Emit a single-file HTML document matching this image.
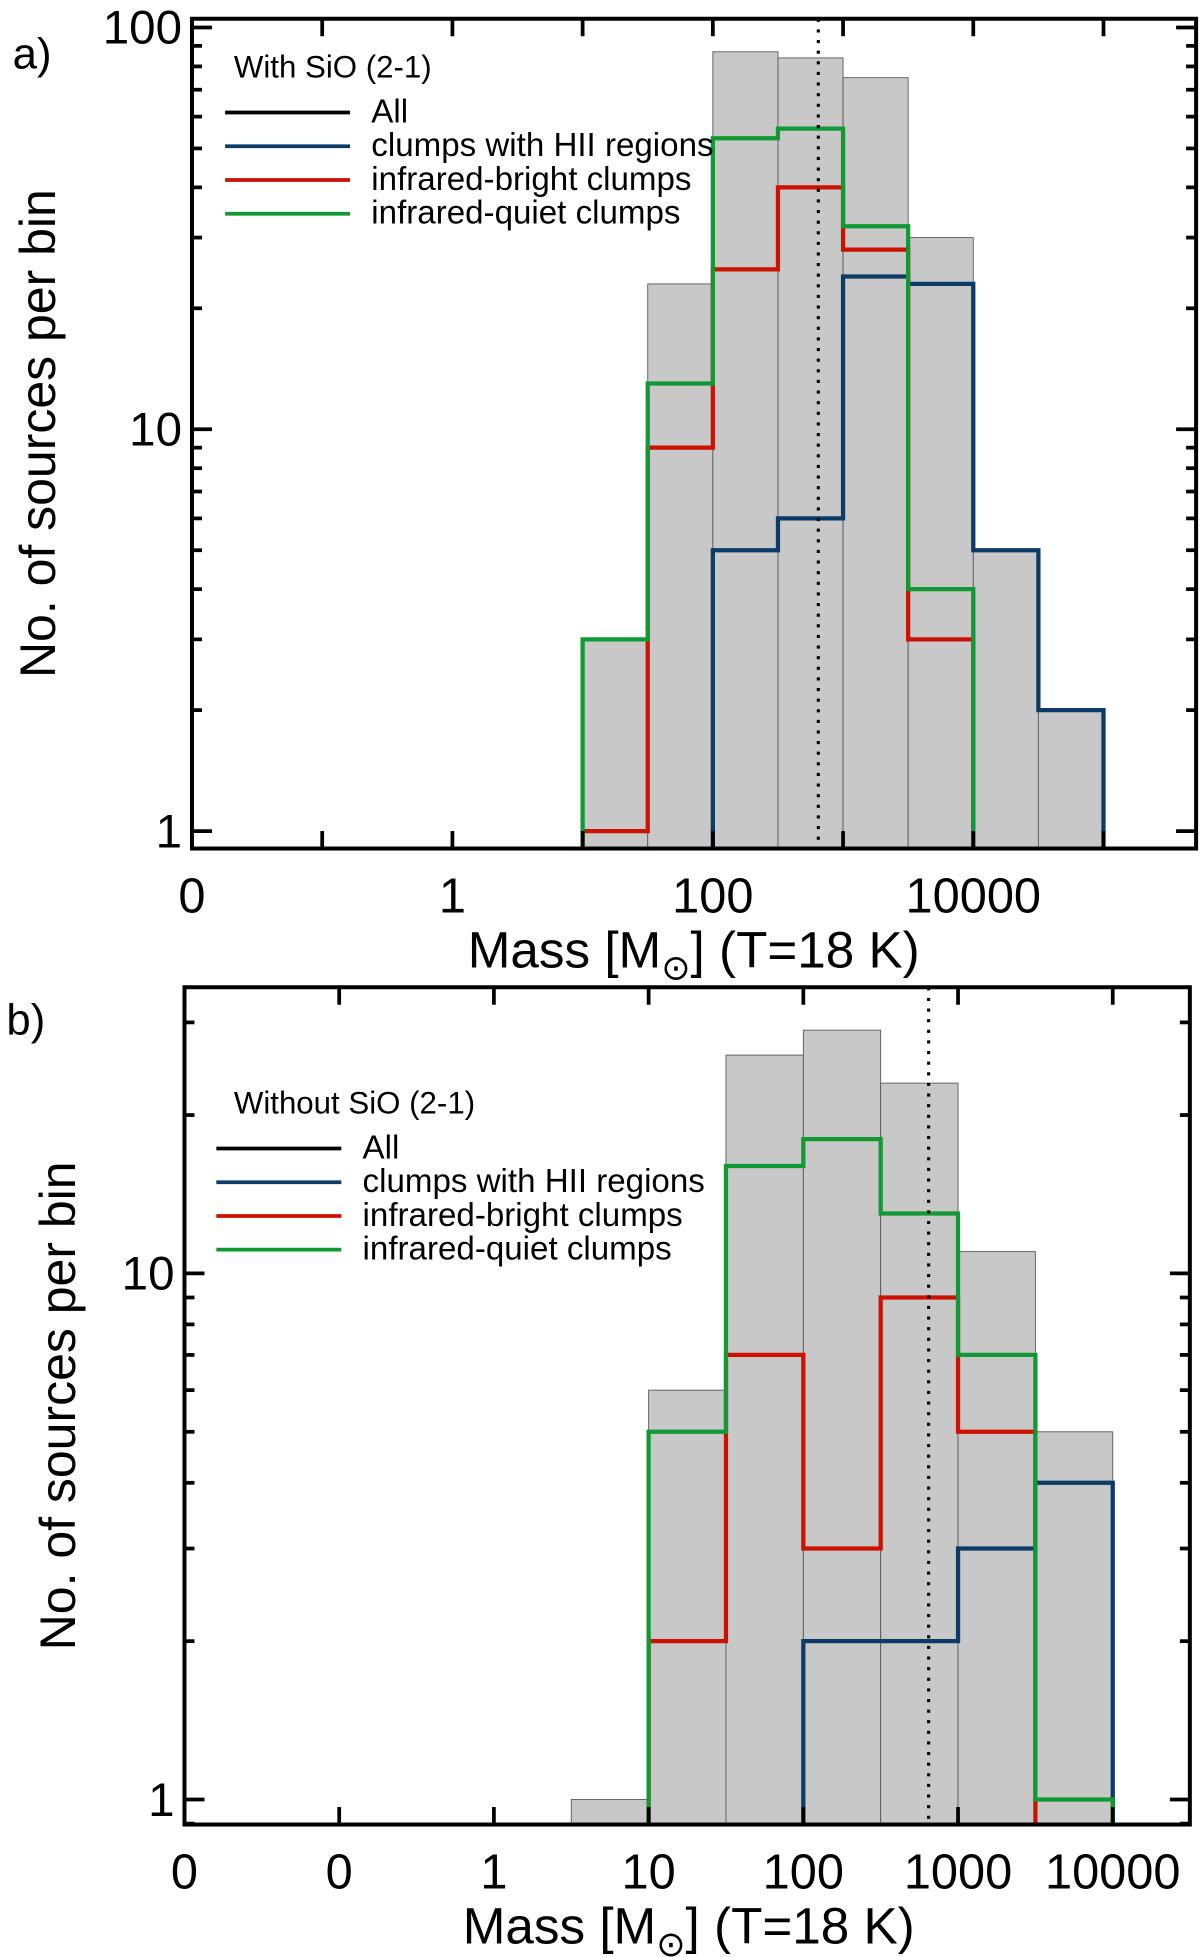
<!DOCTYPE html>
<html><head><meta charset="utf-8"><style>
html,body{margin:0;padding:0;background:#fff;}
svg{display:block;font-family:"Liberation Sans",sans-serif;}
</style></head><body>
<svg id="fig" width="1200" height="1957" viewBox="0 0 960 1566" xmlns="http://www.w3.org/2000/svg"></svg>
<script>
// ---- Panel a data (bins in log10 mass, half-decade) ----
const aBinEdgesLog = [1, 1.5, 2, 2.5, 3, 3.5, 4, 4.5, 5];
const aAll   = [3, 23, 87, 84, 75, 30, 5, 2];
const aHII   = [0, 0, 5, 6, 24, 23, 5, 2];
const aBright= [1, 9, 25, 40, 28, 3, 0, 0];
const aQuiet = [3, 13, 53, 56, 32, 4, 0, 0];
const aMedianLog = 2.81;
const aXTickLabels = ["0", "1", "100", "10000"];
const aXTickLabelLogs = [-2, 0, 2, 4];
const aYTickLabels = ["1", "10", "100"];

// ---- Panel b data ----
const bBinEdgesLog = [0.5, 1, 1.5, 2, 2.5, 3, 3.5, 4];
const bAll   = [1, 6, 26, 29, 23, 11, 5];
const bHII   = [0, 0, 0, 2, 2, 3, 4];
const bBright= [0, 2, 7, 3, 9, 5, 0];
const bQuiet = [0, 5, 16, 18, 13, 7, 1];
const bMedianLog = 2.81;
const bXTickLabels = ["0", "0", "1", "10", "100", "1000", "10000"];
const bXTickLabelLogs = [-2, -1, 0, 1, 2, 3, 4];
const bYTickLabels = ["1", "10"];

const NS = "http://www.w3.org/2000/svg";
const svg = document.getElementById("fig");
const COL = {hii:"#0b3b66", bright:"#cc1100", quiet:"#119933"};

function mk(tag, attrs, parent){
  const e = document.createElementNS(NS, tag);
  for (const k in attrs) e.setAttribute(k, attrs[k]);
  (parent||svg).appendChild(e);
  return e;
}

function panel(cfg){
  const g = mk("g", {});
  
  
  const X = v => cfg.x0 + (v - cfg.xmin) / (cfg.xmax - cfg.xmin) * (cfg.x1 - cfg.x0);
  const Y = v => cfg.y1 - (v - cfg.ymin) / (cfg.ymax - cfg.ymin) * (cfg.y1 - cfg.y0);
  const yv = c => c > 0 ? Y(Math.log10(c)) : cfg.y1;
  const E = cfg.edges;
  cfg.all.forEach((c, i) => {
    if (c <= 0) return;
    const r = mk("rect", {x:X(E[i]), y:yv(c), width:X(E[i+1])-X(E[i]), height:cfg.y1-yv(c), fill:"#c8c8c8", stroke:"#555", "stroke-width":0.7}, g);
    
    
  });
  [["hii", cfg.hii], ["bright", cfg.bright], ["quiet", cfg.quiet]].forEach(([k, arr]) => {
    let d = "", open = false;
    arr.forEach((c, i) => {
      if (c > 0) {
        if (!open) { d += "M" + X(E[i]) + " " + cfg.y1; open = true; }
        d += " L" + X(E[i]) + " " + yv(c) + " L" + X(E[i+1]) + " " + yv(c);
      } else if (open) { d += " L" + X(E[i]) + " " + cfg.y1; open = false; }
    });
    if (open) d += " L" + X(E[E.length-1]) + " " + cfg.y1;
    const p = mk("path", {d:d, fill:"none", stroke:COL[k], "stroke-width":3.4}, g);
    
    
  });
  const ml = mk("line", {x1:X(cfg.median), x2:X(cfg.median), y1:cfg.y0, y2:cfg.y1, stroke:"#000", "stroke-width":2.5, "stroke-dasharray":"2.5,6"}, g);
  
  
  for (let dcd = Math.floor(cfg.ymin); dcd <= Math.ceil(cfg.ymax); dcd++) {
    for (let m = 1; m <= 9; m++) {
      const lv = dcd + Math.log10(m);
      if (lv < cfg.ymin || lv > cfg.ymax) continue;
      const L = m === 1 ? 16 : 8, y = Y(lv);
      mk("line", {x1:cfg.x0, x2:cfg.x0+L, y1:y, y2:y, stroke:"#000", "stroke-width":3}, g);
      mk("line", {x1:cfg.x1, x2:cfg.x1-L, y1:y, y2:y, stroke:"#000", "stroke-width":3}, g);
    }
  }
  cfg.yLabels.forEach((t, i) => {
    const tx = mk("text", {x:cfg.x0-8, y:Y(i)+13, "text-anchor":"end", "font-size":38}, g);
    tx.textContent = t;
    
    
  });
  for (let v = Math.ceil(cfg.xmin); v <= cfg.xmax; v++) {
    const x = X(v);
    mk("line", {x1:x, x2:x, y1:cfg.y1, y2:cfg.y1-14, stroke:"#000", "stroke-width":3}, g);
    mk("line", {x1:x, x2:x, y1:cfg.y0, y2:cfg.y0+14, stroke:"#000", "stroke-width":3}, g);
  }
  cfg.xLabels.forEach((t, i) => {
    const tx = mk("text", {x:X(cfg.xLabelLogs[i]), y:cfg.y1+51, "text-anchor":"middle", "font-size":39}, g);
    tx.textContent = t;
    
    
  });
  const fr = mk("rect", {x:cfg.x0, y:cfg.y0, width:cfg.x1-cfg.x0, height:cfg.y1-cfg.y0, fill:"none", stroke:"#000", "stroke-width":3.2}, g);
  
  
  const xt = mk("text", {x:cfg.xtX, y:cfg.y1+95, "text-anchor":"middle", "font-size":41}, g);
  xt.innerHTML = 'Mass [M<tspan font-size="28" dy="10">⊙</tspan><tspan dy="-10">] (T=18 K)</tspan>';
  
  
  const yt = mk("text", {x:0, y:0, "text-anchor":"middle", "font-size":40, transform:"translate(" + cfg.ytX + "," + cfg.ytY + ") rotate(-90)"}, g);
  yt.textContent = "No. of sources per bin";
  
  
  const pl = mk("text", {x:cfg.plX, y:cfg.plY, "font-size":35}, g);
  pl.textContent = cfg.panelLabel;
  
  
  const lg = mk("g", {}, g);
  
  
  const lt = mk("text", {x:cfg.legX+cfg.legTitleDx, y:cfg.legY-20, "font-size":25}, lg);
  lt.textContent = cfg.legTitle;
  
  
  [["All","#000"],["clumps with HII regions",COL.hii],["infrared-bright clumps",COL.bright],["infrared-quiet clumps",COL.quiet]].forEach((e, i) => {
    const y = cfg.legY + 8 + i * 27;
    const ln = mk("line", {x1:cfg.legX, x2:cfg.legX+100, y1:y, y2:y, stroke:e[1], "stroke-width":3}, lg);
    
    
    const tx = mk("text", {x:cfg.legX+117, y:y+8, "font-size":26.5}, lg);
    tx.textContent = e[0];
    
    
  });
}

panel({name:"panel-a", x0:153.5, x1:957, y0:15, y1:679, xmin:-2, xmax:-2+(957-153.5)/104.2, ymin:-(679-665)/322, ymax:2+7/322,
  edges:aBinEdgesLog, all:aAll, hii:aHII, bright:aBright, quiet:aQuiet, median:aMedianLog,
  xLabels:aXTickLabels, xLabelLogs:aXTickLabelLogs, yLabels:aYTickLabels,
  xtX:555, ytX:44, ytY:347, plX:10, plY:55, panelLabel:"a)", legTitle:"With SiO (2-1)", legTitleDx:7, legX:180, legY:82});

panel({name:"panel-b", x0:147.5, x1:952, y0:790, y1:1460, xmin:-2, xmax:-2+(952-147.5)/123.8, ymin:-(1460-1440)/421, ymax:(1440-790)/421,
  edges:bBinEdgesLog, all:bAll, hii:bHII, bright:bBright, quiet:bQuiet, median:bMedianLog,
  xLabels:bXTickLabels, xLabelLogs:bXTickLabelLogs, yLabels:bYTickLabels,
  xtX:551, ytX:60, ytY:1125, plX:5, plY:828, panelLabel:"b)", legTitle:"Without SiO (2-1)", legTitleDx:14, legX:173, legY:911});
</script>
</body></html>
